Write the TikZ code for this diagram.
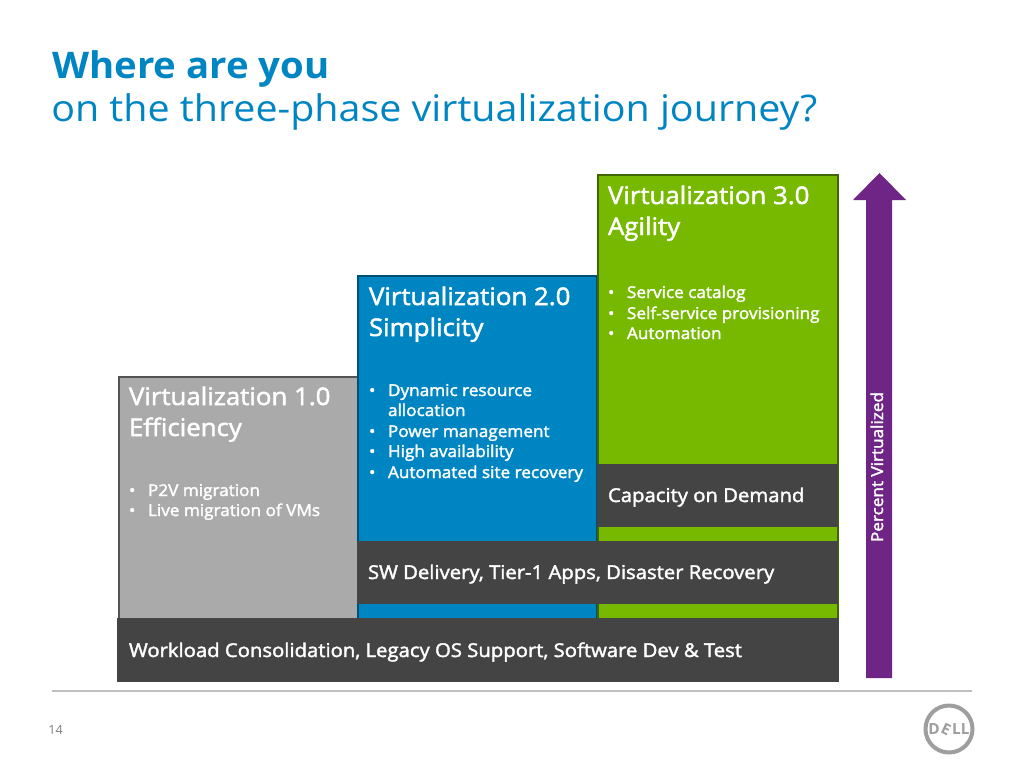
\documentclass[tikz,border=0pt]{standalone}
\usepackage{fontspec}
\setmainfont{Open Sans}
\newfontfamily\medf[FakeBold=2,FakeStretch=1.064]{Open Sans}
\newfontfamily\itemf[FakeBold=2,FakeStretch=1.055]{Open Sans}
\newfontfamily\lightf[FakeStretch=1.075]{Open Sans}
\newfontfamily\titlef[FakeStretch=1.045]{Open Sans}
\usepackage{graphicx}
\definecolor{dblue}{HTML}{0085C3}
\definecolor{dgreen}{HTML}{76B900}
\definecolor{dgrey}{HTML}{AAAAAA}
\definecolor{ddark}{HTML}{444444}
\definecolor{dpurple}{HTML}{6E2585}
\tikzset{
  x=0.75pt,y=-0.75pt,
  panel/.style={line width=2.2pt},
  bar/.style={fill=ddark,draw=none},
  lbl/.style={anchor=base west,inner sep=0pt,outer sep=0pt,text=white},
  head/.style={lbl,font=\medf\fontsize{18.2}{18.2}\selectfont},
  item/.style={lbl,font=\itemf\fontsize{12.2}{12.2}\selectfont},
  strip/.style={lbl,font=\medf\fontsize{14.3}{14.3}\selectfont},
}
\begin{document}
\begin{tikzpicture}
\useasboundingbox (0,0) rectangle (1024,768);
\fill[white] (0,0) rectangle (1024,768);
% title
\node[anchor=base west,inner sep=0pt,text=dblue,font=\titlef\bfseries\fontsize{27.5}{27.5}\selectfont] (t1) at (52,78) {Where are you};
\node[anchor=base west,inner sep=0pt,text=dblue,font=\lightf\fontsize{27.5}{27.5}\selectfont] (t2) at (51,121) {on the three-phase virtualization journey?};
% panels
\path[panel,fill=dgrey,draw=ddark!85!dgrey] (119,377) rectangle (358,680);
\path[panel,fill=dblue,draw=dblue!60!black] (358,276) rectangle (597,680);
\path[panel,fill=dgreen,draw=dgreen!55!black] (598,175) rectangle (838,680);
% bars
\path[bar] (597,464) rectangle (838,527);
\path[bar] (357,541) rectangle (838,604);
\path[bar] (117,618) rectangle (839,682);
% panel text
\node[head] (h1a) at (129,405) {Virtualization 1.0};
\node[head] (h1b) at (129,436) {Efficiency};
\node[item] (b1a) at (129,496) {•};
\node[item] (i1a) at (148,496) {P2V migration};
\node[item] (b1b) at (129,516) {•};
\node[item] (i1b) at (148,516) {Live migration of VMs};
\node[head] (h2a) at (369,305) {Virtualization 2.0};
\node[head] (h2b) at (369,336) {Simplicity};
\node[item] (b2a) at (369,396) {•};
\node[item] (i2a) at (388,396) {Dynamic resource};
\node[item] (i2a2) at (388,416) {allocation};
\node[item] (b2b) at (369,437) {•};
\node[item] (i2b) at (388,437) {Power management};
\node[item] (b2c) at (369,457) {•};
\node[item] (i2c) at (388,457) {High availability};
\node[item] (b2d) at (369,478) {•};
\node[item] (i2d) at (388,478) {Automated site recovery};
\node[head] (h3a) at (608,204) {Virtualization 3.0};
\node[head] (h3b) at (608,235) {Agility};
\node[item] (b3a) at (608,298) {•};
\node[item] (i3a) at (627,298) {Service catalog};
\node[item] (b3b) at (608,319) {•};
\node[item] (i3b) at (627,319) {Self-service provisioning};
\node[item] (b3c) at (608,339) {•};
\node[item] (i3c) at (627,339) {Automation};
% bar text
\node[strip] (s3) at (608,502) {Capacity on Demand};
\node[strip] (s2) at (368,579) {SW Delivery, Tier-1 Apps, Disaster Recovery};
\node[strip] (s1) at (129,657) {Workload Consolidation, Legacy OS Support, Software Dev \& Test};
% arrow
\fill[dpurple] (866,678) -- (892,678) -- (892,200) -- (906,200) -- (879.5,173) -- (853,200) -- (866,200) -- cycle;
\node[item,rotate=90] (pv) at (883,542) {Percent Virtualized};
% footer
\draw[line width=1pt,draw=black!25] (52,691) -- (972,691);
\node[anchor=base west,inner sep=0pt,text=black!50,font=\fontsize{9.5}{9.5}\selectfont] (pg) at (48,734) {14};
% logo
\draw[line width=3pt,draw=black!38] (949,729) circle (23.5);
\node[inner sep=0pt,text=black!38,font=\bfseries\fontsize{11.5}{11.5}\selectfont] (logo) at (949,729) {D\rotatebox[origin=c]{-25}{E}LL};
\end{tikzpicture}
\end{document}
